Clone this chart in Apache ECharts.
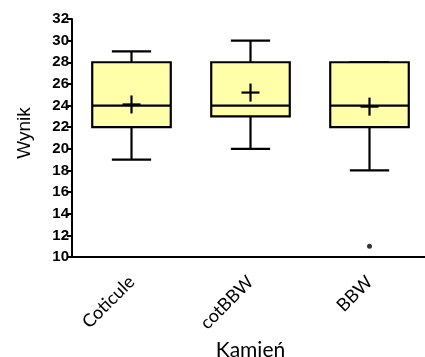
<!DOCTYPE html>
<html>
<head>
<meta charset="utf-8">
<script src="https://cdn.jsdelivr.net/npm/echarts@6/dist/echarts.min.js"></script>
<style>
html,body{margin:0;padding:0;background:#fff;}
#c{width:425px;height:357px;}
</style>
</head>
<body>
<div id="c"></div>
<script>
var categories = ['Coticule', 'cotBBW', 'BBW'];
var minVals = [19, 20, 18];
var q1Vals = [22, 23, 22];
var medianVals = [24, 24, 24];
var q3Vals = [28, 28, 28];
var maxVals = [29, 30, 28];
var meanVals = [24.1, 25.2, 23.9];
var outliers = [[2, 11]];
var yTicks = [10, 12, 14, 16, 18, 20, 22, 24, 26, 28, 30, 32];

var boxData = categories.map(function (c, i) {
  return [i, minVals[i], q1Vals[i], medianVals[i], q3Vals[i], maxVals[i], meanVals[i]];
});

var chart = echarts.init(document.getElementById('c'));
var black = '#000';
chart.setOption({
  animation: false,
  backgroundColor: '#fff',
  grid: { left: 72, top: 19, width: 357, height: 238, containLabel: false, outerBoundsMode: 'none' },
  xAxis: {
    type: 'category',
    data: categories,
    name: 'Kamień',
    nameLocation: 'middle',
    nameGap: 82,
    nameTextStyle: { fontFamily: 'Lato', fontSize: 21, color: black },
    axisLine: { lineStyle: { color: black, width: 2 } },
    axisTick: { alignWithLabel: true, length: 5, lineStyle: { color: black, width: 2 } },
    axisLabel: { rotate: 45, margin: 22, fontFamily: 'Lato', fontSize: 18, color: black },
    splitLine: { show: false }
  },
  yAxis: {
    type: 'value',
    min: yTicks[0],
    max: yTicks[yTicks.length - 1],
    interval: 2,
    name: 'Wynik',
    nameLocation: 'middle',
    nameGap: 38,
    nameRotate: 90,
    nameTextStyle: { fontFamily: 'Liberation Sans', fontSize: 19, color: black, padding: [0, 0, 0, 10] },
    axisLine: { show: true, lineStyle: { color: black, width: 2 } },
    axisTick: { show: true, length: 5, lineStyle: { color: black, width: 2 } },
    axisLabel: { margin: 3, fontFamily: 'Liberation Sans', fontWeight: 'bold', fontSize: 15, color: black },
    splitLine: { show: false }
  },
  series: [
    {
      type: 'custom',
      data: boxData,
      encode: { x: 0, y: [1, 2, 3, 4, 5, 6] },
      renderItem: function (params, api) {
        var i = api.value(0);
        var band = api.size([1, 0])[0];
        var bw = band * 0.66;
        var cw = bw * 0.5;
        var pMin = api.coord([i, api.value(1)]);
        var pQ1 = api.coord([i, api.value(2)]);
        var pMed = api.coord([i, api.value(3)]);
        var pQ3 = api.coord([i, api.value(4)]);
        var pMax = api.coord([i, api.value(5)]);
        var pMean = api.coord([i, api.value(6)]);
        var x = pMed[0];
        var st = { stroke: black, lineWidth: 2.2, fill: null };
        var children = [
          { type: 'line', shape: { x1: x, y1: pQ1[1], x2: x, y2: pMin[1] }, style: st },
          { type: 'line', shape: { x1: x - cw / 2, y1: pMin[1], x2: x + cw / 2, y2: pMin[1] }, style: st },
          { type: 'line', shape: { x1: x, y1: pQ3[1], x2: x, y2: pMax[1] }, style: st },
          { type: 'line', shape: { x1: x - cw / 2, y1: pMax[1], x2: x + cw / 2, y2: pMax[1] }, style: st },
          { type: 'rect', shape: { x: x - bw / 2, y: pQ3[1], width: bw, height: pQ1[1] - pQ3[1] },
            style: { fill: '#FFFFAA', stroke: black, lineWidth: 2.2 } },
          { type: 'line', shape: { x1: x - bw / 2, y1: pMed[1], x2: x + bw / 2, y2: pMed[1] }, style: st },
          { type: 'line', shape: { x1: x - 9, y1: pMean[1], x2: x + 9, y2: pMean[1] }, style: st },
          { type: 'line', shape: { x1: x, y1: pMean[1] - 9, x2: x, y2: pMean[1] + 9 }, style: st }
        ];
        return { type: 'group', children: children };
      },
      z: 3
    },
    {
      type: 'scatter',
      data: outliers,
      symbol: 'circle',
      symbolSize: 5,
      itemStyle: { color: black },
      z: 4
    }
  ]
});
</script>
</body>
</html>
